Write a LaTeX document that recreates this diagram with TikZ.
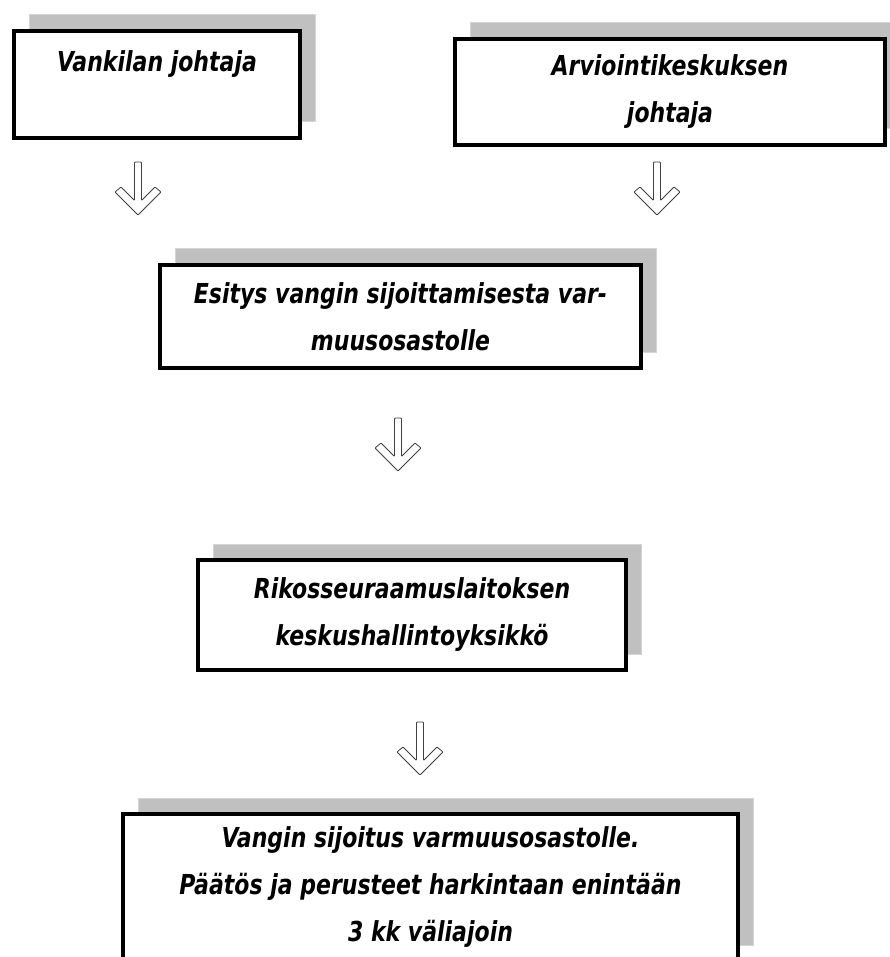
\documentclass[tikz,border=0pt]{standalone}
\usepackage{fontspec}
\setmainfont{DejaVu Sans}
\newfontfamily\boxfont{DejaVu Sans}[FakeStretch=0.8]
\usetikzlibrary{shadows}
\definecolor{shgray}{HTML}{C0C0C0}
\definecolor{shedge}{HTML}{D4D4D4}
\tikzset{
  flowbox/.style={draw=black, line width=4pt, fill=white, inner sep=0pt,
    align=center, font=\boxfont\bfseries\itshape\fontsize{27.5}{47}\selectfont,
    general shadow={shadow xshift=15pt, shadow yshift=16pt, fill=shgray, draw=shedge, line width=1pt}},
  hollow arrow/.pic={
    \draw[line width=0.8pt, draw=black!75, fill=white, rounded corners=0.8pt]
      (-3.5,-53) -- (-3.5,-14.5) -- (-17,-28) -- (-23,-23) -- (0,0)
      -- (23,-23) -- (17,-28) -- (3.5,-14.5) -- (3.5,-53) -- cycle;}
}
\begin{document}
\begin{tikzpicture}[x=1pt, y=-1pt]
\useasboundingbox (0,0) rectangle (890,957);
\clip (0,0) rectangle (890,957);
\fill[white] (0,0) rectangle (890,957);
\node[flowbox, minimum width=286pt, minimum height=107pt] (b1) at (157,84.5) {Vankilan johtaja\\\mbox{}};
\node[flowbox, minimum width=430pt, minimum height=106pt] (b2) at (670,92) {Arviointikeskuksen\\johtaja};
\node[flowbox, minimum width=481pt, minimum height=103pt] (b3) at (400.5,316.5) {Esitys vangin sijoittamisesta var-\\muusosastolle};
\node[flowbox, minimum width=428pt, minimum height=110pt] (b4) at (412,615) {Rikosseuraamuslaitoksen\\keskushallintoyksikkö};
\node[flowbox, minimum width=615pt, minimum height=147pt] (b5) at (430.5,887.5) {Vangin sijoitus varmuusosastolle.\\Päätös ja perusteet harkintaan enintään\\3 kk väliajoin};
\pic at (138,215) {hollow arrow};
\pic at (657,215) {hollow arrow};
\pic at (398,471) {hollow arrow};
\pic at (420,775) {hollow arrow};
\end{tikzpicture}
\end{document}
